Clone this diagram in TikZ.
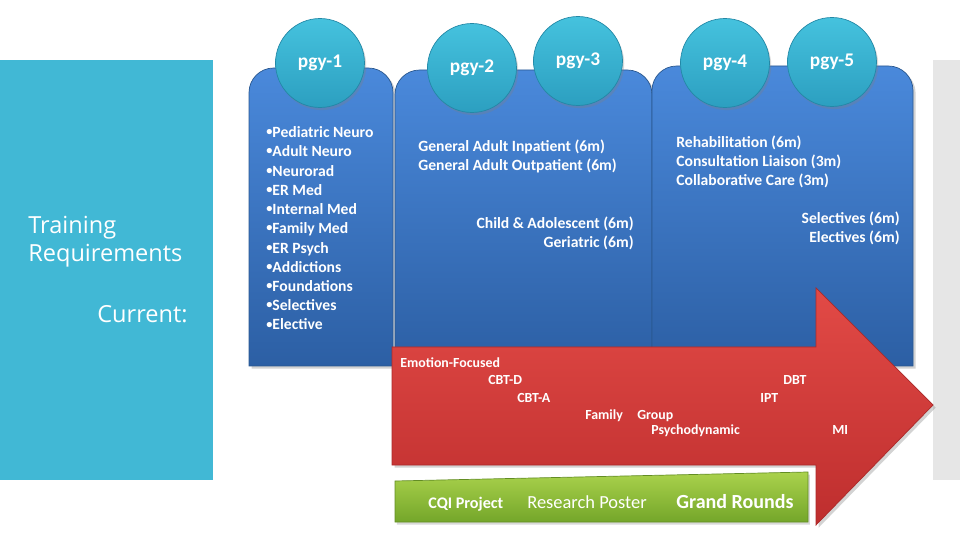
\documentclass[tikz,border=0pt]{standalone}
\usepackage{fontspec}
\setmainfont{Carlito}
\newfontfamily\lightfont{Open Sans}
\usepackage{xcolor}
\definecolor{panelTeal}{HTML}{41B8D5}
\definecolor{sideGrey}{HTML}{E6E6E6}
\definecolor{blockTop}{HTML}{4A89DB}
\definecolor{blockBottom}{HTML}{2C5FA4}
\definecolor{blockEdge}{HTML}{2A5890}
\definecolor{circleTop}{HTML}{45C2DE}
\definecolor{circleBottom}{HTML}{2C9FC0}
\definecolor{circleEdge}{HTML}{2388A6}
\definecolor{arrowTop}{HTML}{E24A46}
\definecolor{arrowBottom}{HTML}{BE2E2E}
\definecolor{barTop}{HTML}{AAD24C}
\definecolor{barBottom}{HTML}{74A62A}
\usepackage{tikz}
\usetikzlibrary{shadows, positioning}

\newcommand{\listDot}{\raisebox{0.25ex}{\fontsize{7}{7}\selectfont •}}

\begin{document}
\begin{tikzpicture}[
        x=0.02cm, y=-0.02cm,
        blockShape/.style={
            top color=blockTop,
            bottom color=blockBottom,
            draw=blockEdge,
            thin,
            drop shadow={opacity=0.35, shadow xshift=1.5pt, shadow yshift=-1.5pt}
        },
        yearCircle/.style={
            circle,
            minimum size=1.78cm,
            inner sep=0pt,
            top color=circleTop,
            bottom color=circleBottom,
            draw=circleEdge,
            drop shadow={opacity=0.3, shadow xshift=1pt, shadow yshift=-1.5pt},
            font=\fontsize{11}{13}\selectfont\bfseries,
            text=white
        },
        itemText/.style={
            font=\fontsize{8.9}{10.95}\selectfont\bfseries,
            text=white,
            inner sep=0pt
        },
        therapyText/.style={
            font=\fontsize{7.9}{9}\selectfont\bfseries,
            text=white,
            inner sep=0pt,
            anchor=base west
        },
        projectText/.style={
            font=\fontsize{10.5}{12}\selectfont,
            text=white,
            inner sep=0pt,
            anchor=base west
        }
    ]
    \useasboundingbox (0,0) rectangle (960,540);

    % Side panels
    \fill[panelTeal] (0,60) rectangle (213,480);
    \fill[sideGrey] (933,60) rectangle (960,480);
    \node[anchor=base west, align=left, inner sep=0pt, text=white,
          font=\lightfont\fontsize{13.4}{16.4}\selectfont] (title) at (28,262) {Training\\Requirements};
    \node[anchor=base east, inner sep=0pt, text=white,
          font=\lightfont\fontsize{13.4}{16.4}\selectfont] (current) at (188,323) {Current:};

    % Year blocks
    \path[blockShape] (249,200) [rounded corners=14pt] |- (320,68) -| (393,200) [sharp corners] |- (249,366) -- cycle;
    \path[blockShape] (395,200) [rounded corners=14pt] |- (520,70) -| (652,200) [sharp corners] |- (395,366) -- cycle;
    \path[blockShape] (652,200) [rounded corners=14pt] |- (780,66) -| (913,200) [sharp corners] |- (652,366) -- cycle;

    % Year circles
    \node[yearCircle] (pgy1) at (320,63) {pgy-1};
    \node[yearCircle] (pgy2) at (472,68) {pgy-2};
    \node[yearCircle] (pgy3) at (578,61) {pgy-3};
    \node[yearCircle] (pgy4) at (725,63) {pgy-4};
    \node[yearCircle] (pgy5) at (832,62) {pgy-5};

    % Rotations
    \node[itemText, anchor=base west, align=left] (pgyOneList) at (266,330)
        {\listDot Pediatric Neuro\\\listDot Adult Neuro\\\listDot Neurorad\\\listDot ER Med\\\listDot Internal Med\\\listDot Family Med\\\listDot ER Psych\\\listDot Addictions\\\listDot Foundations\\\listDot Selectives\\\listDot Elective};
    \node[itemText, anchor=base west, align=left] (generalAdult) at (418,171)
        {General Adult Inpatient (6m)\\General Adult Outpatient (6m)};
    \node[itemText, anchor=base east, align=right] (childGeri) at (634,248)
        {Child \& Adolescent (6m)\\Geriatric (6m)};
    \node[itemText, anchor=base west, align=left] (rehabCL) at (676,186)
        {Rehabilitation (6m)\\Consultation Liaison (3m)\\Collaborative Care (3m)};
    \node[itemText, anchor=base east, align=right] (selElec) at (900,243)
        {Selectives (6m)\\Electives (6m)};

    % Psychotherapy arrow
    \path[top color=arrowTop, bottom color=arrowBottom, draw=arrowBottom!90!black, thin,
          drop shadow={opacity=0.35, shadow xshift=1.5pt, shadow yshift=-1.5pt}]
        (392,347) -- (816,347) -- (816,288) -- (933,405) -- (816,525) -- (816,465) -- (392,465) -- cycle;
    \node[therapyText] (emotion) at (400,368) {Emotion-Focused};
    \node[therapyText] (cbtd) at (488,385) {CBT-D};
    \node[therapyText] (cbta) at (517,402) {CBT-A};
    \node[therapyText] (family) at (585,419) {Family};
    \node[therapyText] (group) at (637,419) {Group};
    \node[therapyText] (psychodyn) at (651,435) {Psychodynamic};
    \node[therapyText] (dbt) at (783,385) {DBT};
    \node[therapyText] (ipt) at (760,402) {IPT};
    \node[therapyText] (mi) at (832,435) {MI};

    % Scholarly projects
    \path[top color=barTop, bottom color=barBottom, draw=barBottom!85!black, thin,
          drop shadow={opacity=0.3, shadow xshift=1pt, shadow yshift=-1.5pt}]
        (395,481) -- (808,472) -- (808,522) -- (395,522) -- cycle;
    \node[projectText, font=\fontsize{9.2}{10}\selectfont\bfseries] (cqi) at (428,508) {CQI Project};
    \node[projectText] (poster) at (527,508) {Research Poster};
    \node[projectText, font=\fontsize{11.4}{13}\selectfont\bfseries] (rounds) at (676,508) {Grand Rounds};
\end{tikzpicture}
\end{document}
